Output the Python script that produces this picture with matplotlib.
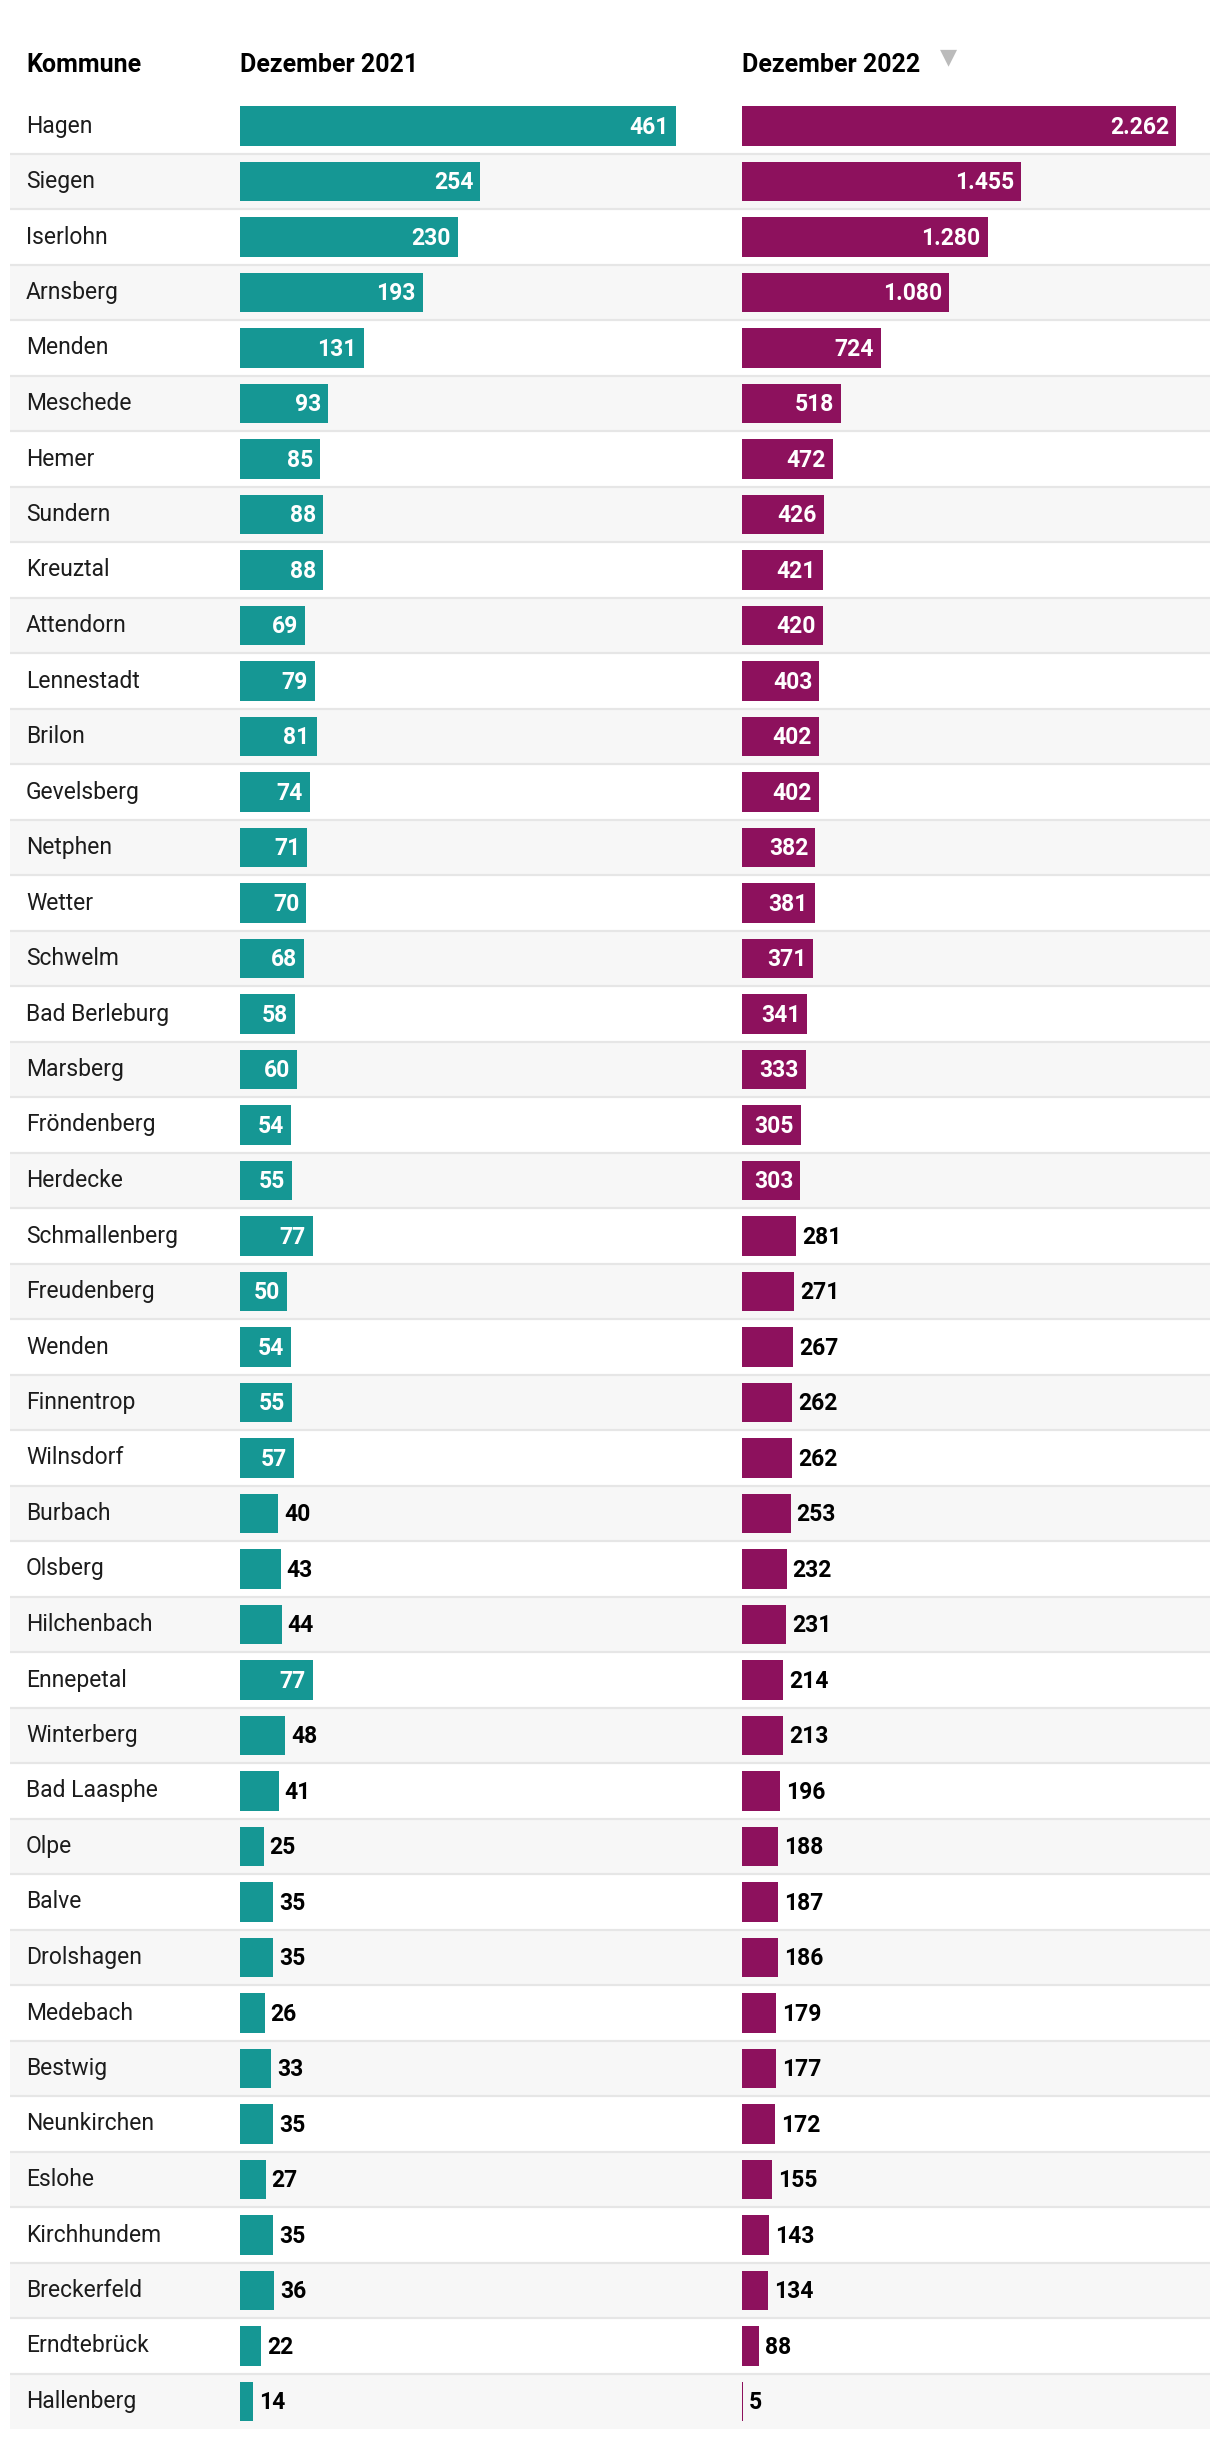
import matplotlib
matplotlib.use("Agg")
import matplotlib.pyplot as plt
from matplotlib.transforms import blended_transform_factory

kommunen = ["Hagen", "Siegen", "Iserlohn", "Arnsberg", "Menden", "Meschede", "Hemer",
            "Sundern", "Kreuztal", "Attendorn", "Lennestadt", "Brilon", "Gevelsberg",
            "Netphen", "Wetter", "Schwelm", "Bad Berleburg", "Marsberg", "Fröndenberg",
            "Herdecke", "Schmallenberg", "Freudenberg", "Wenden", "Finnentrop", "Wilnsdorf",
            "Burbach", "Olsberg", "Hilchenbach", "Ennepetal", "Winterberg", "Bad Laasphe",
            "Olpe", "Balve", "Drolshagen", "Medebach", "Bestwig", "Neunkirchen", "Eslohe",
            "Kirchhundem", "Breckerfeld", "Erndtebrück", "Hallenberg"]
dez_2021 = [461, 254, 230, 193, 131, 93, 85, 88, 88, 69, 79, 81, 74, 71, 70, 68, 58, 60,
            54, 55, 77, 50, 54, 55, 57, 40, 43, 44, 77, 48, 41, 25, 35, 35, 26, 33, 35,
            27, 35, 36, 22, 14]
dez_2022 = [2262, 1455, 1280, 1080, 724, 518, 472, 426, 421, 420, 403, 402, 402, 382,
            381, 371, 341, 333, 305, 303, 281, 271, 267, 262, 262, 253, 232, 231, 214,
            213, 196, 188, 187, 186, 179, 177, 172, 155, 143, 134, 88, 5]
headers = ["Kommune", "Dezember 2021", "Dezember 2022"]

W, H = 1220, 2444
DPI = 100
n = len(kommunen)
row_h = 55.5
first_center = 126
top_px = first_center - row_h / 2
bot_px = first_center + (n - 1) * row_h + row_h / 2

TEAL = "#159794"
MAGENTA = "#8d115d"
FONT = ["Roboto", "DejaVu Sans"]

fig = plt.figure(figsize=(W / DPI, H / DPI), dpi=DPI)
fig.patch.set_facecolor("white")

def fx(px):
    return px / W

def fy(px):
    return 1 - px / H

ax_bottom = fy(bot_px)
ax_height = (bot_px - top_px) / H

# background rows
bg = fig.add_axes([fx(10), ax_bottom, fx(1200), ax_height])
bg.set_xlim(0, 1)
bg.set_ylim(n - 0.5, -0.5)
bg.axis("off")
for i in range(n):
    if i % 2 == 1:
        bg.axhspan(i - 0.5, i + 0.5, color="#f7f7f7", lw=0, zorder=0)
for i in range(n - 1):
    bg.axhline(i + 0.5, color="#e6e6e6", lw=1.6, zorder=1)

# names
tr = blended_transform_factory(fig.transFigure, bg.transData)
for i, name in enumerate(kommunen):
    bg.text(fx(26), i, name, transform=tr, ha="left", va="center",
            fontsize=16.5, fontweight="normal", color="#1c1c1c", family=FONT)

# bars
cols = [(240, 436, dez_2021, TEAL, 50), (742, 434, dez_2022, MAGENTA, 300)]
for left, width, vals, color, inside_min in cols:
    ax = fig.add_axes([fx(left), ax_bottom, fx(width), ax_height])
    ax.set_xlim(0, max(vals))
    ax.set_ylim(n - 0.5, -0.5)
    ax.axis("off")
    ax.patch.set_alpha(0)
    ax.barh(range(n), vals, height=0.72, color=color, lw=0, zorder=2)
    pad = 7 / width * max(vals)
    for i, v in enumerate(vals):
        lab = f"{v:,}".replace(",", ".")
        if v >= inside_min:
            ax.text(v - pad, i + 0.02, lab, ha="right", va="center", color="white",
                    fontsize=16.5, fontweight="bold", family=FONT, clip_on=False, zorder=3)
        else:
            ax.text(v + 6 / width * max(vals), i + 0.02, lab, ha="left", va="center",
                    color="#000000", fontsize=16.5, fontweight="bold", family=FONT,
                    clip_on=False, zorder=3)

# headers
for x, txt in zip([26, 240, 742], headers):
    fig.text(fx(x), fy(65), txt, ha="left", va="center", fontsize=18,
             fontweight="bold", color="black", family=FONT)
fig.text(fx(948), fy(57), "▼", ha="center", va="center", fontsize=16,
         color="#bbbbbb", family=["DejaVu Sans"])

fig.savefig("out.png", dpi=DPI, facecolor="white")
